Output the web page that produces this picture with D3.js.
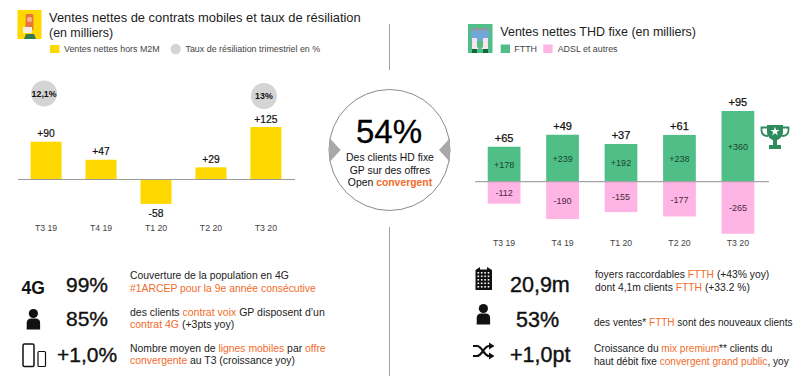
<!DOCTYPE html>
<html><head><meta charset="utf-8">
<script src="https://cdn.jsdelivr.net/npm/d3@7"></script>
<style>html,body{margin:0;padding:0;background:#fff}svg{display:block}text{font-family:"Liberation Sans",Arial,sans-serif}</style>
</head><body><div id="c"></div>
<script>
const quarters = ["T3 19","T4 19","T1 20","T2 20","T3 20"];
const mobileNet = [90,47,-58,29,125];
const mobileLabels = ["+90","+47","-58","+29","+125"];
const churn = [{q:"T3 19",label:"12,1%"},{q:"T3 20",label:"13%"}];
const ftth = [178,239,192,238,360];
const adsl = [-112,-190,-155,-177,-265];
const fixedTotals = ["+65","+49","+37","+61","+95"];
const YELLOW="#ffd800", GREEN="#50be87", PINK="#ffb4e6", ORANGE="#f26b2a", DARK="#111";

const svg=d3.select("#c").append("svg").attr("width",800).attr("height",376).attr("viewBox","0 0 800 376");

function T(x,y,s,size,opts={}){
  const t=svg.append("text").attr("x",x).attr("y",y).attr("font-size",size)
   .attr("fill",opts.fill||DARK).attr("text-anchor",opts.anchor||"start");
  if(opts.weight)t.attr("font-weight",opts.weight);
  if(opts.stroke)t.attr("stroke",opts.fill||DARK).attr("stroke-width",opts.stroke);
  (Array.isArray(s)?s:[[s]]).forEach(p=>{
    const sp=t.append("tspan").text(p[0]);
    if(p[1])sp.attr("fill",ORANGE);
    if(p[2])sp.attr("font-weight","bold");
  });
  return t;
}

// ---- left chart
const xL=d3.scaleBand().domain(quarters).range([18.5,293.5]).paddingInner(0.436).paddingOuter(0.22);
const yL=d3.scaleLinear().domain([0,125]).range([179.5,127]);
svg.selectAll(".m").data(quarters).enter().append("rect")
  .attr("x",d=>xL(d)).attr("width",xL.bandwidth())
  .attr("y",(d,i)=>Math.min(yL(mobileNet[i]),yL(0)))
  .attr("height",(d,i)=>Math.abs(yL(mobileNet[i])-yL(0))).attr("fill",YELLOW);
svg.append("line").attr("x1",18).attr("x2",295).attr("y1",yL(0)).attr("y2",yL(0)).attr("stroke","#9a9a9a").attr("stroke-width",1);
quarters.forEach((q,i)=>{
  const cx=xL(q)+xL.bandwidth()/2, v=mobileNet[i];
  T(cx,v>=0?yL(v)-4.5:yL(v)+13,mobileLabels[i],10.3,{anchor:"middle",fill:"#111",stroke:.2});
  T(cx,231,q,8.7,{anchor:"middle",fill:"#444"});
});
const churnY={"T3 19":93.5,"T3 20":96};
churn.forEach(c=>{
  const cx=xL(c.q)+xL.bandwidth()/2-2;
  svg.append("circle").attr("cx",cx).attr("cy",churnY[c.q]).attr("r",13).attr("fill","#d4d4d4");
  T(cx,churnY[c.q]+3.2,c.label,8.8,{anchor:"middle",weight:"bold"});
});

// ---- right chart
const xR=d3.scaleBand().domain(quarters).range([474,768]).paddingInner(0.44).paddingOuter(0.235);
const yR=d3.scaleLinear().domain([0,360]).range([181.7,111]);
svg.selectAll(".f").data(quarters).enter().append("rect")
  .attr("x",d=>xR(d)).attr("width",xR.bandwidth())
  .attr("y",(d,i)=>yR(ftth[i])).attr("height",(d,i)=>yR(0)-yR(ftth[i])).attr("fill",GREEN);
svg.selectAll(".a").data(quarters).enter().append("rect")
  .attr("x",d=>xR(d)).attr("width",xR.bandwidth())
  .attr("y",yR(0)).attr("height",(d,i)=>yR(adsl[i])-yR(0)).attr("fill",PINK);
svg.append("line").attr("x1",475).attr("x2",769).attr("y1",yR(0)).attr("y2",yR(0)).attr("stroke","#a5a5a5").attr("stroke-width",1.3);
quarters.forEach((q,i)=>{
  const cx=xR(q)+xR.bandwidth()/2;
  T(cx,yR(ftth[i])-5,fixedTotals[i],11,{anchor:"middle",stroke:.25});
  T(cx,(yR(ftth[i])+yR(0))/2+3.5,"+"+ftth[i],9,{anchor:"middle",fill:"#17462f"});
  T(cx,(yR(adsl[i])+yR(0))/2+3.5,String(adsl[i]),9,{anchor:"middle",fill:"#4a2a40"});
  T(cx,246,q,8.7,{anchor:"middle",fill:"#444"});
});

// ---- headers
svg.append("rect").attr("x",17.5).attr("y",10).attr("width",24).attr("height",29).attr("fill",YELLOW);
svg.append("rect").attr("x",25.5).attr("y",14).attr("width",8).attr("height",16).attr("rx",1.5).attr("fill","#e8763a");
svg.append("rect").attr("x",27).attr("y",17).attr("width",5).attr("height",5).attr("rx",2).attr("fill","#f7b48a");
svg.append("rect").attr("x",23).attr("y",27).attr("width",9).attr("height",6).attr("fill","#f2efe6");
svg.append("path").attr("d","M24 39L26 34H34L36 39Z").attr("fill","#2f7a55");
T(49,22,"Ventes nettes de contrats mobiles et taux de résiliation",12.9,{fill:"#222"});
T(49,37,"(en milliers)",12.4,{fill:"#222"});
svg.append("rect").attr("x",50).attr("y",45).attr("width",9.5).attr("height",8).attr("fill",YELLOW);
T(64,52,"Ventes nettes hors M2M",8.9,{fill:"#444"});
svg.append("circle").attr("cx",175.7).attr("cy",49).attr("r",5.2).attr("fill","#d4d4d4");
T(185.5,52,"Taux de résiliation trimestriel en %",8.9,{fill:"#444"});

svg.append("rect").attr("x",468).attr("y",24).attr("width",24.5).attr("height",29).attr("fill",GREEN);
svg.append("rect").attr("x",471).attr("y",28).attr("width",18).attr("height",3).attr("fill","#8a9aa8");
svg.append("rect").attr("x",471).attr("y",31).attr("width",18).attr("height",10).attr("fill","#6fa8d8");
svg.append("path").attr("d","M472 38H477V47L479 49H472ZM488 38H483V47L481 49H488Z").attr("fill","#fbe3ee");
svg.append("rect").attr("x",472).attr("y",49).attr("width",5).attr("height",4).attr("fill","#0d6b3a");
svg.append("rect").attr("x",483).attr("y",49).attr("width",5).attr("height",4).attr("fill","#0d6b3a");
T(500.3,36,"Ventes nettes THD fixe (en milliers)",12.5,{fill:"#222"});
svg.append("rect").attr("x",500.7).attr("y",44.5).attr("width",9.3).attr("height",8.5).attr("fill",GREEN);
T(514.3,52,"FTTH",8.9,{fill:"#444"});
svg.append("rect").attr("x",543.3).attr("y",44.5).attr("width",9.3).attr("height",8.5).attr("fill",PINK);
T(557.7,52,"ADSL et autres",8.9,{fill:"#444"});

// ---- dividers and centre circle
svg.append("line").attr("x1",389.5).attr("x2",389.5).attr("y1",24).attr("y2",70).attr("stroke","#a0a0a0");
svg.append("line").attr("x1",389.5).attr("x2",389.5).attr("y1",227).attr("y2",376).attr("stroke","#a0a0a0");
svg.append("circle").attr("cx",389.5).attr("cy",150).attr("r",60.5).attr("fill","#fff").attr("stroke","#8a8a8a").attr("stroke-width",1);
svg.append("path").attr("d","M329.5 138L340.7 150L329.5 162Z").attr("fill","#a8a8a8");
svg.append("path").attr("d","M450 138L439 150L450 162Z").attr("fill","#a8a8a8");
T(389,142.7,"54%",33,{anchor:"middle",fill:"#000",stroke:.3});
T(390,161,"Des clients HD fixe",10.4,{anchor:"middle"});
T(390,173.6,"GP sur des offres",10.4,{anchor:"middle"});
T(390,185.5,[["Open "],["convergent",1,1]],10.4,{anchor:"middle"});

// ---- KPI rows
T(21.5,293.5,"4G",17.5,{weight:"bold",fill:"#111"});
T(66,292,"99%",21,{stroke:.35});
T(130,279,"Couverture de la population en 4G",10.4,{fill:"#222"});
T(130,292,"#1ARCEP pour la 9e année consécutive",10.4,{fill:ORANGE});
T(66,325.7,"85%",21,{stroke:.35});
T(130,315.7,[["des clients "],["contrat voix",1],[" GP disposent d’un"]],10.5,{fill:"#222"});
T(130,328,[["contrat 4G",1],[" (+3pts yoy)"]],10.5,{fill:"#222"});
T(57,362,"+1,0%",21,{stroke:.35});
T(130,351.7,[["Nombre moyen de "],["lignes mobiles",1],[" par "],["offre",1]],10.4,{fill:"#222"});
T(130,364.3,[["convergente",1],[" au T3 (croissance yoy)"]],10.4,{fill:"#222"});

T(510,292,"20,9m",21.5,{stroke:.4});
T(595,278.3,[["foyers raccordables "],["FTTH",1],[" (+43% yoy)"]],10.3,{fill:"#222"});
T(595,291,[["dont 4,1m clients "],["FTTH",1],["  (+33.2 %)"]],10.3,{fill:"#222"});
T(516,326.7,"53%",21.5,{stroke:.4});
T(594,325.7,[["des ventes* "],["FTTH",1],[" sont des nouveaux clients"]],10,{fill:"#222"});
T(510,361.7,"+1,0pt",21.5,{stroke:.4});
T(594,351.7,[["Croissance du "],["mix premium",1],["** clients du"]],10.1,{fill:"#222"});
T(594,365,[["haut débit fixe "],["convergent grand public",1],[", yoy"]],10.1,{fill:"#222"});

// ---- icons
function person(cx,top){
  svg.append("circle").attr("cx",cx).attr("cy",top+4.5).attr("r",4.6).attr("fill","#111");
  svg.append("path").attr("d",`M${cx-6.7} ${top+20.5}V${top+14}Q${cx-6.7} ${top+9.5} ${cx-2} ${top+9.5}H${cx+2}Q${cx+6.7} ${top+9.5} ${cx+6.7} ${top+14}V${top+20.5}Z`).attr("fill","#111");
}
person(33.4,309);
person(483.4,304);
svg.append("rect").attr("x",23).attr("y",344).attr("width",11).attr("height",22.5).attr("rx",1.5).attr("fill","none").attr("stroke","#111").attr("stroke-width",1.5);
svg.append("rect").attr("x",38).attr("y",351.5).attr("width",7.5).attr("height",15).attr("rx",1).attr("fill","none").attr("stroke","#111").attr("stroke-width",1.2);
// building
svg.append("path").attr("d","M475.5 290V270L480 267V269.5H487V267L492 270V290Z").attr("fill","#111");
d3.range(5).forEach(r=>d3.range(4).forEach(c=>{
  svg.append("rect").attr("x",477.5+c*3.4).attr("y",272+r*3.5).attr("width",1.6).attr("height",1.6).attr("fill","#fff");
}));
// shuffle
svg.append("path").attr("d","M473 346H477C482 346 484 356 489 356H490M473 356H477C482 356 484 346 489 346H490").attr("fill","none").attr("stroke","#111").attr("stroke-width",2.2);
svg.append("path").attr("d","M489 342.5L494.5 346L489 349.5ZM489 352.5L494.5 356L489 359.5Z").attr("fill","#111");
// trophy
svg.append("path").attr("d","M767 125H783V132C783 137 779 139.5 777 140V145H781V149H769V145H773V140C771 139.5 767 137 767 132Z").attr("fill","#2e8b5e");
svg.append("path").attr("d","M767 127.5H761.5V130C761.5 134 764 136 768 136M783 127.5H788.5V130C788.5 134 786 136 782 136").attr("fill","none").attr("stroke","#2e8b5e").attr("stroke-width",1.8);
svg.append("path").attr("d",d3.symbol(d3.symbolStar,26)()).attr("transform","translate(775,131.5)").attr("fill","#fff");
</script></body></html>
